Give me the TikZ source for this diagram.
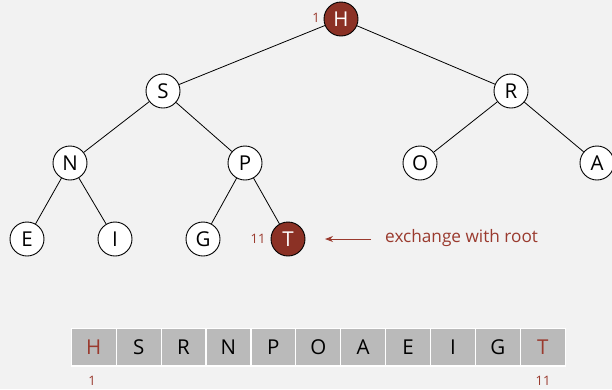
\documentclass[tikz,border=0pt]{standalone}
\usepackage{fontspec}
\setmainfont{Open Sans}
\usetikzlibrary{arrows.meta}
\definecolor{bg}{HTML}{F2F2F2}
\definecolor{hot}{HTML}{8B3125}
\definecolor{hottext}{HTML}{9A3A2E}
\definecolor{cell}{HTML}{BABABA}
\begin{document}
\begin{tikzpicture}[x=1pt,y=-1pt,
  key/.style={circle,draw=black,line width=0.9pt,fill=white,minimum size=34pt,inner sep=0pt,font=\fontsize{20.5}{20.5}\selectfont},
  hotkey/.style={key,fill=hot,text=white},
  edge/.style={line width=0.8pt},
  idx/.style={text=hottext,font=\fontsize{13}{13}\selectfont},
  slot/.style={draw=white,line width=1.2pt,fill=cell,minimum width=44.9pt,minimum height=37.7pt,inner sep=0pt,font=\fontsize{20.5}{20.5}\selectfont}]
\fill[bg] (0,0) rectangle (612,389);
\useasboundingbox (0,0) rectangle (612,389);
% heap drawn as a binary tree
\node[hotkey] (h) at (341,19) {H};
\node[key] (s) at (163,91) {S};
\node[key] (r) at (511,91) {R};
\node[key] (n) at (70,163) {N};
\node[key] (p) at (245,163) {P};
\node[key] (o) at (420,163) {O};
\node[key] (a) at (597,163) {A};
\node[key] (e) at (27,239) {E};
\node[key] (i) at (115,239) {I};
\node[key] (g) at (203,239) {G};
\node[hotkey] (t) at (288,239) {T};
\draw[edge] (h) -- (s);
\draw[edge] (h) -- (r);
\draw[edge] (s) -- (n);
\draw[edge] (s) -- (p);
\draw[edge] (r) -- (o);
\draw[edge] (r) -- (a);
\draw[edge] (n) -- (e);
\draw[edge] (n) -- (i);
\draw[edge] (p) -- (g);
\draw[edge] (p) -- (t);
\node[idx] (h1) at (316,18) {1};
\node[idx] (t11) at (258,239) {11};
% annotation
\node[text=hottext,font=\fontsize{17.2}{17.2}\selectfont,anchor=west,inner sep=0pt] (note) at (385,238) {exchange with root};
\coordinate (tailpt) at (371,239);
\coordinate (headpt) at (325,239);
\draw[hottext,line width=1pt,-{Stealth[length=8pt,width=6pt]}] (tailpt) -- (headpt);
% array representation
\foreach \k/\c [count=\j] in {H/hottext,S/black,R/black,N/black,P/black,O/black,A/black,E/black,I/black,G/black,T/hottext}{
  \node[slot,text=\c] (c\j) at ({71.3+44.9*(\j-0.5)},347.2) {\k};
}
\node[idx] (a1) at (92,381) {1};
\node[idx] (a11) at (543,381) {11};
\end{tikzpicture}
\end{document}
